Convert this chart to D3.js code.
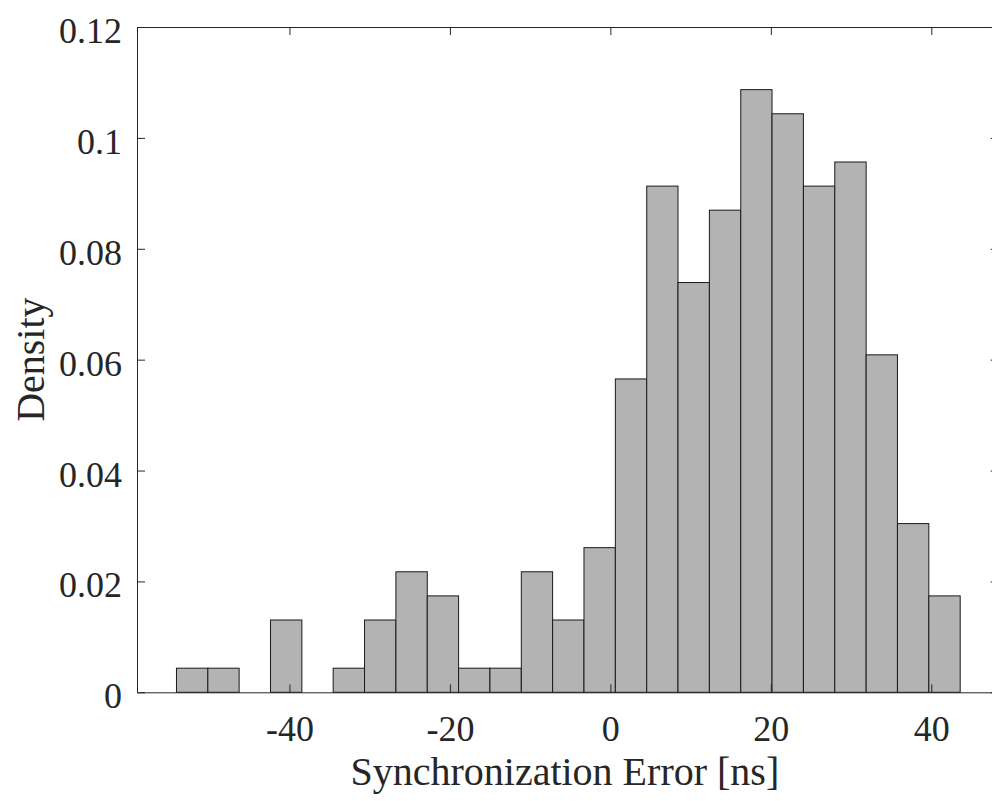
<!DOCTYPE html>
<html>
<head>
<meta charset="utf-8">
<script src="https://cdn.jsdelivr.net/npm/d3@7/dist/d3.min.js"></script>
<style>
  html, body { margin: 0; padding: 0; background: #fff; }
  svg { display: block; }
</style>
</head>
<body>
<script>
// ---- data ----
const binEdges = [-54.08, -50.17, -46.27, -42.36, -38.45, -34.55, -30.64, -26.73, -22.82,
  -18.92, -15.01, -11.10, -7.20, -3.29, 0.62, 4.53, 8.43, 12.34, 16.25, 20.15, 24.06,
  27.97, 31.88, 35.78, 39.69, 43.60];
const density = [0.00435, 0.00435, 0, 0.01304, 0, 0.00435, 0.01304, 0.02174, 0.01739,
  0.00435, 0.00435, 0.02174, 0.01304, 0.02609, 0.05652, 0.09130, 0.07391, 0.08696,
  0.10870, 0.10435, 0.09130, 0.09565, 0.06087, 0.03043, 0.01739];
const xTicks = [-40, -20, 0, 20, 40];
const xTickLabels = ["-40", "-20", "0", "20", "40"];
const yTicks = [0, 0.02, 0.04, 0.06, 0.08, 0.1, 0.12];
const yTickLabels = ["0", "0.02", "0.04", "0.06", "0.08", "0.1", "0.12"];
const xLabel = "Synchronization Error [ns]";
const yLabel = "Density";

// ---- layout ----
const W = 992, H = 801;
const mLeft = 137, mRight = 998.7, mTop = 27, mBottom = 692.3;
const axisColor = "#262626";
const font = "'Liberation Serif', 'Times New Roman', serif";

const svg = d3.select("body").append("svg").attr("width", W).attr("height", H)
  .style("background", "#fff");

const x = d3.scaleLinear().domain([-59, 48.4]).range([mLeft, mRight]);
const y = d3.scaleLinear().domain([0, 0.12]).range([mBottom, mTop]);

const bins = density.map((v, i) => ({ x0: binEdges[i], x1: binEdges[i + 1], v }));

svg.append("g").selectAll("rect")
  .data(bins.filter(d => d.v > 0))
  .join("rect")
  .attr("x", d => x(d.x0))
  .attr("width", d => x(d.x1) - x(d.x0))
  .attr("y", d => y(d.v))
  .attr("height", d => y(0) - y(d.v))
  .attr("fill", "#b3b3b3")
  .attr("stroke", "#1a1a1a")
  .attr("stroke-width", 1);

function styleAxis(g) {
  g.selectAll("path, line").attr("stroke", axisColor).attr("stroke-width", 1);
  g.selectAll("text").attr("fill", axisColor).style("font-family", font).style("font-size", "36px");
}

// bottom
const gb = svg.append("g").attr("transform", `translate(0,${mBottom})`)
  .call(d3.axisBottom(x).tickValues(xTicks).tickFormat((d, i) => xTickLabels[i])
    .tickSizeInner(-8).tickSizeOuter(0).tickPadding(23));
styleAxis(gb);
gb.selectAll("text").attr("dy", "0.71em");

// top
const gt = svg.append("g").attr("transform", `translate(0,${mTop})`)
  .call(d3.axisTop(x).tickValues(xTicks).tickFormat("")
    .tickSizeInner(-8).tickSizeOuter(0));
styleAxis(gt);

// left
const gl = svg.append("g").attr("transform", `translate(${mLeft},0)`)
  .call(d3.axisLeft(y).tickValues(yTicks).tickFormat((d, i) => yTickLabels[i])
    .tickSizeInner(-8).tickSizeOuter(0).tickPadding(15));
styleAxis(gl);
gl.selectAll("text").attr("dy", "0.43em");

// right
const gr = svg.append("g").attr("transform", `translate(${mRight},0)`)
  .call(d3.axisRight(y).tickValues(yTicks).tickFormat("")
    .tickSizeInner(-8).tickSizeOuter(0));
styleAxis(gr);

// axis labels
svg.append("text")
  .attr("x", (mLeft + mRight) / 2 - 3)
  .attr("y", 785)
  .attr("text-anchor", "middle")
  .attr("fill", axisColor)
  .style("font-family", font)
  .style("font-size", "40px")
  .text(xLabel);

svg.append("text")
  .attr("transform", `translate(44,${(mTop + mBottom) / 2}) rotate(-90)`)
  .attr("text-anchor", "middle")
  .attr("fill", axisColor)
  .style("font-family", font)
  .style("font-size", "40px")
  .text(yLabel);
</script>
</body>
</html>
